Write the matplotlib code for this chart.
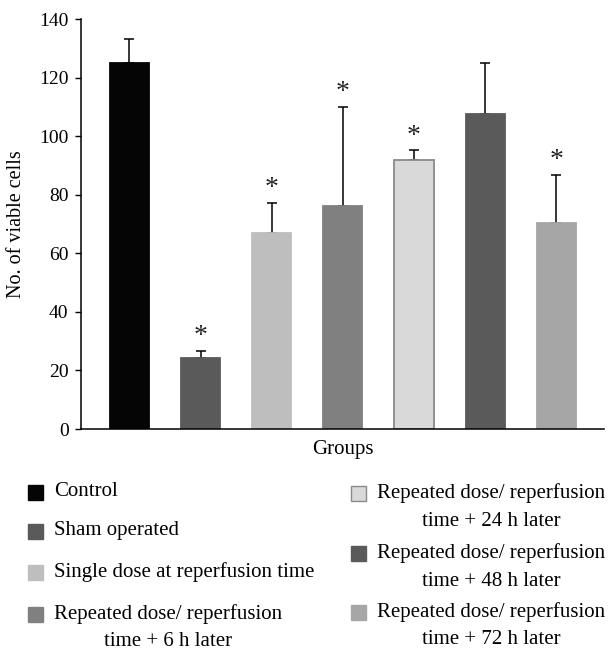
import matplotlib
matplotlib.use("Agg")
import matplotlib.pyplot as plt
from matplotlib.patches import Rectangle

plt.rcParams['font.family'] = ['Liberation Serif', 'DejaVu Serif']

groups = ["Control", "Sham operated", "Single dose at reperfusion time",
          "Repeated dose/ reperfusion\ntime + 6 h later",
          "Repeated dose/ reperfusion\ntime + 24 h later",
          "Repeated dose/ reperfusion\ntime + 48 h later",
          "Repeated dose/ reperfusion\ntime + 72 h later"]
means = [125.0, 24.2, 66.8, 76.0, 91.8, 107.4, 70.5]
upper_err = [8.2, 2.6, 10.5, 34.0, 3.4, 17.6, 16.4]
significant = [False, True, True, True, True, False, True]
colors = ["#050505", "#5a5a5a", "#bebebe", "#808080", "#d9d9d9", "#5a5a5a", "#a6a6a6"]
edges = ["#050505", "#5a5a5a", "#bebebe", "#808080", "#8a8a8a", "#5a5a5a", "#a6a6a6"]
yticks = [0, 20, 40, 60, 80, 100, 120, 140]

W, H = 609, 652
fig = plt.figure(figsize=(W / 100, H / 100), dpi=100)
ax = fig.add_axes([81 / W, 1 - 429 / H, (604 - 81) / W, (429 - 19) / H])

x = list(range(len(means)))
ax.bar(x, means, width=0.55, color=colors, edgecolor=edges, linewidth=1.3, zorder=2)
ax.errorbar(x, means, yerr=[[0] * len(means), upper_err], fmt='none',
            ecolor='black', elinewidth=1.1, capsize=3.3, capthick=1.1, zorder=1)
for xi, m, e, s in zip(x, means, upper_err, significant):
    if s:
        ax.annotate('*', (xi, m + e), xytext=(0, 1), textcoords='offset points',
                    ha='center', va='bottom', fontsize=20, color='#222222')

ax.set_xlim(-0.68, 6.67)
ax.set_ylim(0, 140)
ax.set_yticks(yticks)
ax.set_xticks([])
ax.tick_params(axis='y', direction='out', length=4, width=1, labelsize=14, pad=5)
for s in ['top', 'right']:
    ax.spines[s].set_visible(False)
for s in ['left', 'bottom']:
    ax.spines[s].set_linewidth(1.1)
ax.set_ylabel('No. of viable cells', fontsize=14.5, labelpad=9)
ax.set_xlabel('Groups', fontsize=15, labelpad=8)

# Legend (manual layout)
FS = 15
sw = 15
left_items = [(0, 492), (1, 531), (2, 572), (3, 614)]
right_items = [(4, 493), (5, 553), (6, 612)]
def add_item(idx, ypx, mx, tx):
    fig.add_artist(Rectangle((mx / W, 1 - (ypx + sw / 2) / H), sw / W, sw / H,
                             transform=fig.transFigure, facecolor=colors[idx],
                             edgecolor=edges[idx], linewidth=1))
    lines = groups[idx].split('\n')
    t = fig.text(tx / W, 1 - ypx / H, lines[0], ha='left', va='center', fontsize=FS)
    if len(lines) > 1:
        fig.canvas.draw()
        bb = t.get_window_extent()
        cx = (bb.x0 + bb.x1) / 2
        fig.text(cx / W, 1 - (ypx + 28) / H, lines[1], ha='center', va='center', fontsize=FS)

for idx, r in left_items:
    add_item(idx, r, 28, 54)
for idx, r in right_items:
    add_item(idx, r, 351, 377)

fig.savefig('out.png', dpi=100)
